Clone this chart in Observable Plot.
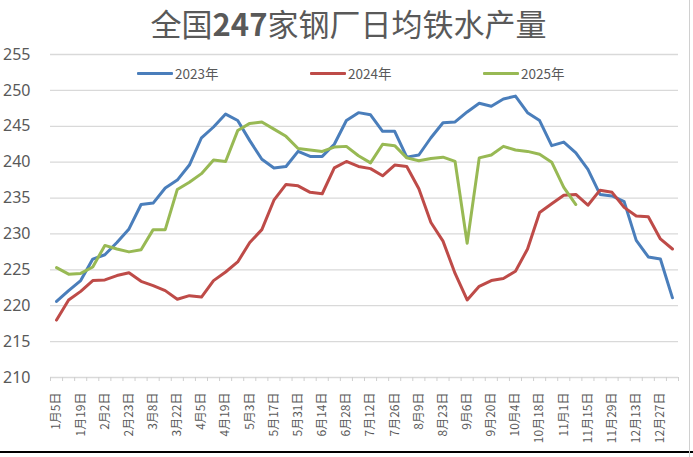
<!DOCTYPE html>
<html>
<head>
<meta charset="utf-8">
<script src="https://cdn.jsdelivr.net/npm/d3@7"></script>
<script src="https://cdn.jsdelivr.net/npm/@observablehq/plot@0.6"></script>
<style>
  html, body { margin: 0; padding: 0; background: #fff; }
  #wrap { position: relative; width: 693px; height: 457px; overflow: hidden; font-family: "Noto Sans CJK SC", "Noto Sans", sans-serif; }
  #title { position: absolute; top: 0; left: 0; width: 693px; height: 45px; line-height: 45px; text-align: center; font-size: 31px; color: #595959; padding-left: 4px; box-sizing: border-box; }
  #title b { font-weight: 700; }
  #chart { position: absolute; top: 0; left: 0; }
  #legend { position: absolute; top: 63px; left: 0; width: 693px; height: 20px; }
  .item { position: absolute; top: 0; height: 20px; display: flex; align-items: center; font-size: 13.5px; color: #595959; }
  .sw { width: 36px; height: 3px; margin-right: 2px; border-radius: 1px; }
  #bottomline { position: absolute; left: 0; top: 451px; width: 693px; height: 2px; background: #000; }
  #rightline { position: absolute; left: 689px; top: 0; width: 1px; height: 457px; background: #d0d0d0; }
</style>
</head>
<body>
<div id="wrap">
  <div id="chart"></div>
  <div id="title">全国<b>247</b>家钢厂日均铁水产量</div>
  <div id="legend"></div>
  <div id="bottomline"></div>
  <div id="rightline"></div>
</div>
<script>
const categories = [
  "1月5日","1月12日","1月19日","1月26日","2月2日","2月16日","2月23日","3月1日","3月8日","3月15日",
  "3月22日","3月29日","4月5日","4月12日","4月19日","4月26日","5月3日","5月10日","5月17日","5月24日",
  "5月31日","6月7日","6月14日","6月21日","6月28日","7月5日","7月12日","7月19日","7月26日","8月2日",
  "8月9日","8月16日","8月23日","8月30日","9月6日","9月13日","9月20日","9月27日","10月4日","10月11日",
  "10月18日","10月25日","11月1日","11月8日","11月15日","11月22日","11月29日","12月6日","12月13日","12月20日",
  "12月27日","12月31日"
];
const years = ["2023年", "2024年", "2025年"];
const colors = ["#4A7EBB", "#BE4B48", "#98B954"];
const s2023 = [
  220.6, 222.1, 223.5, 226.5, 227.1, 228.8, 230.7, 234.1, 234.3, 236.4,
  237.5, 239.6, 243.4, 244.9, 246.7, 245.8, 243.0, 240.4, 239.2, 239.4,
  241.5, 240.8, 240.8, 242.5, 245.8, 246.9, 246.6, 244.3, 244.3, 240.7,
  241.0, 243.4, 245.5, 245.6, 247.0, 248.2, 247.8, 248.8, 249.2, 246.9,
  245.8, 242.3, 242.8, 241.3, 239.0, 235.5, 235.3, 234.5, 229.1, 226.8,
  226.5, 221.1
];
const s2024 = [
  218.0, 220.8, 222.0, 223.5, 223.6, 224.2, 224.6, 223.4, 222.8, 222.1,
  220.9, 221.4, 221.2, 223.5, 224.7, 226.1, 228.8, 230.6, 234.7, 236.9,
  236.7, 235.8, 235.6, 239.2, 240.1, 239.4, 239.1, 238.1, 239.6, 239.4,
  236.3, 231.6, 229.0, 224.5, 220.8, 222.7, 223.5, 223.8, 224.8, 227.9,
  233.0, 234.2, 235.4, 235.5, 234.0, 236.1, 235.8, 233.7, 232.5, 232.4,
  229.3, 227.9
];
const s2025 = [
  225.3, 224.4, 224.5, 225.4, 228.4, 227.9, 227.5, 227.8, 230.6, 230.6,
  236.2, 237.2, 238.4, 240.3, 240.1, 244.4, 245.4, 245.6, 244.6, 243.6,
  241.9, 241.7, 241.5, 242.1, 242.2, 240.9, 239.9, 242.5, 242.3, 240.6,
  240.2, 240.5, 240.7, 240.1, 228.7, 240.6, 241.0, 242.2, 241.7, 241.5,
  241.1, 240.0, 236.5, 234.1
];
const yTicks = [210, 215, 220, 225, 230, 235, 240, 245, 250, 255];

const series = [s2023, s2024, s2025];
const data = series.flatMap((s, k) => s.map((v, i) => ({i, year: years[k], value: v})));
const labelIdx = categories.map((c, i) => i).filter(i => i % 2 === 0 && i <= 50);

const chart = Plot.plot({
  width: 693,
  height: 457,
  marginLeft: 50,
  marginRight: 15,
  marginTop: 54,
  marginBottom: 80,
  style: {fontFamily: "'Noto Sans CJK SC', 'Noto Sans', sans-serif", color: "#595959", background: "transparent"},
  x: {type: "linear", domain: [0, categories.length], axis: null},
  y: {domain: [210, 255], axis: null},
  color: {domain: years, range: colors},
  marks: [
    Plot.ruleY(yTicks, {stroke: "#d9d9d9", strokeWidth: 1.3}),
    Plot.axisY(yTicks, {tickSize: 0, tickPadding: 20, fontSize: 16, label: null, fontFamily: "'Noto Sans', sans-serif", tickFormat: d => d}),
    Plot.axisX(d3.range(0, categories.length + 1), {tickSize: 4, label: null, tickFormat: () => "", stroke: "#cfcfcf"}),
    Plot.axisX(labelIdx.map(i => i + 0.5), {
      tickSize: 0, tickPadding: 15, tickRotate: -90, fontSize: 12, label: null,
      tickFormat: v => categories[Math.floor(v)]
    }),
    Plot.line(data, {x: d => d.i + 0.5, y: "value", z: "year", stroke: "year", strokeWidth: 3, strokeLinejoin: "round", strokeLinecap: "round"})
  ]
});
document.getElementById("chart").appendChild(chart);

const legend = document.getElementById("legend");
const legendLeft = [137, 310, 483];
years.forEach((y, k) => {
  const it = document.createElement("div");
  it.className = "item";
  it.style.left = legendLeft[k] + "px";
  it.innerHTML = `<span class="sw" style="background:${colors[k]}"></span><span>${y}</span>`;
  legend.appendChild(it);
});
</script>
</body>
</html>
